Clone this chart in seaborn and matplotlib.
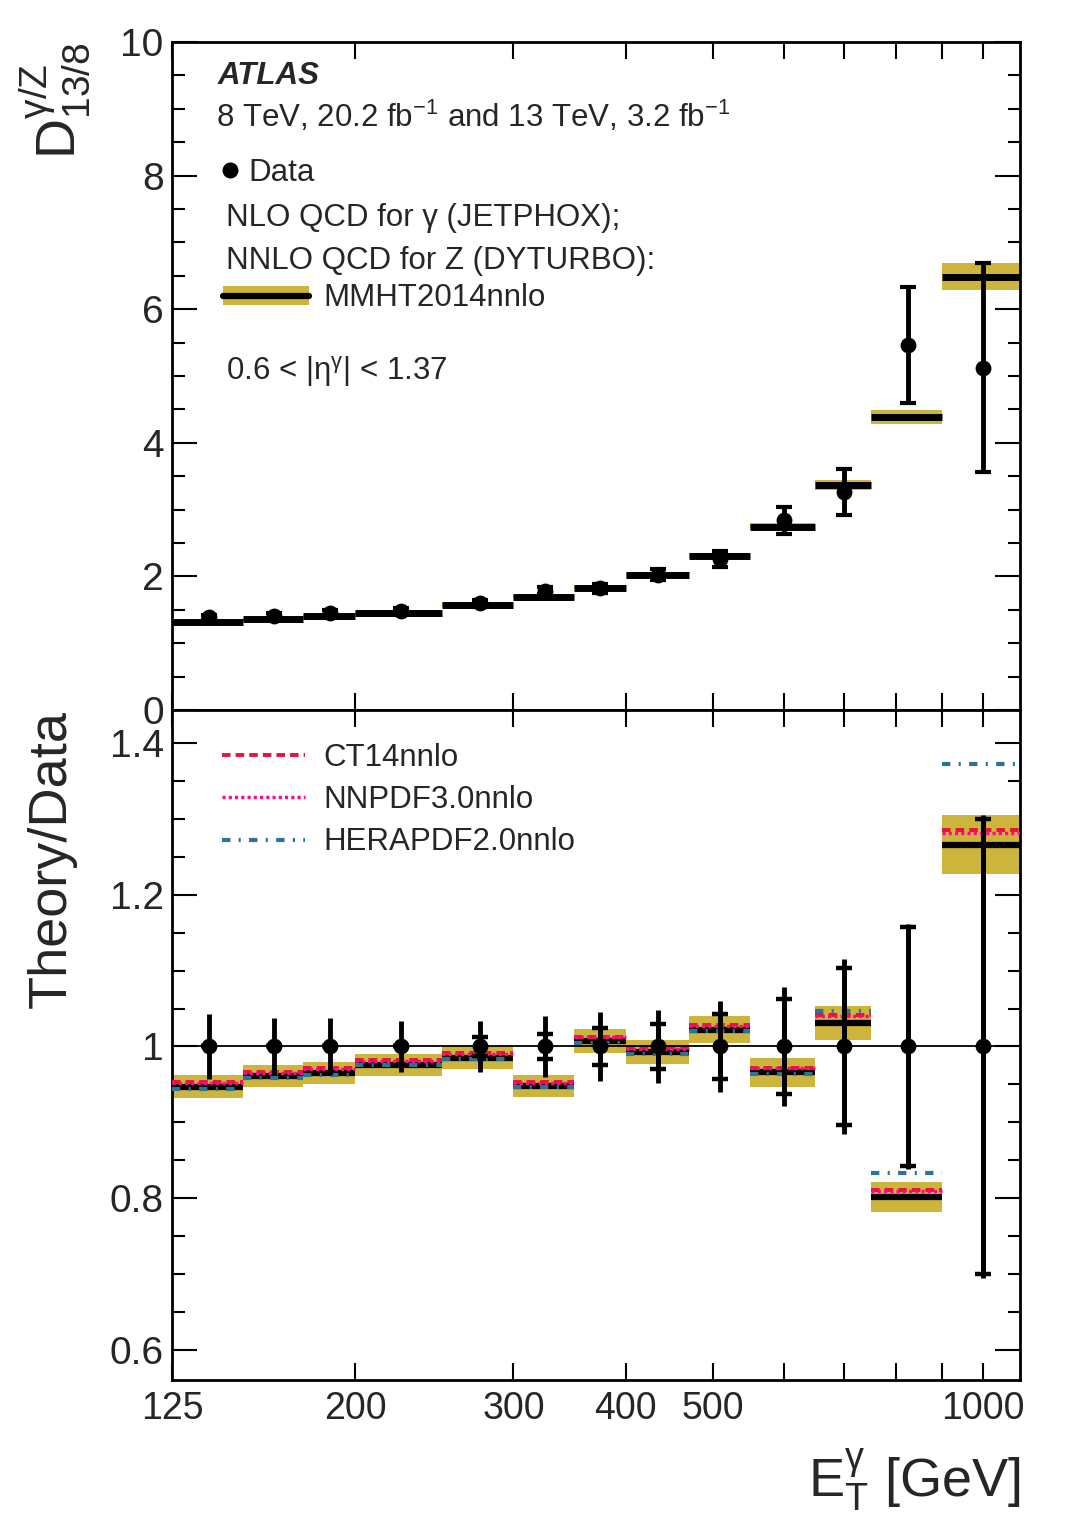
import numpy as np
import matplotlib
matplotlib.use('Agg')
import matplotlib.pyplot as plt
from matplotlib.lines import Line2D
from matplotlib.patches import Patch
from matplotlib.ticker import FixedLocator, FixedFormatter, NullLocator, MultipleLocator
import seaborn as sns

# photon E_T bins [GeV]
et_edges = [125, 150, 175, 200, 250, 300, 350, 400, 470, 550, 650, 750, 900, 1100]
et_centers = [137.5, 162.5, 187.5, 225, 275, 325, 375, 435, 510, 600, 700, 825, 1000]

# measured D^{gamma/Z}_{13/8} and relative uncertainties
data_val = [1.386, 1.411, 1.452, 1.486, 1.596, 1.787, 1.820, 2.027, 2.260, 2.840, 3.263, 5.465, 5.125]
err_upper = [0.028, 0.028, 0.028, 0.028, 0.030, 0.032, 0.037, 0.040, 0.051, 0.070, 0.107, 0.158, 0.305]
err_tot = [0.043, 0.038, 0.037, 0.033, 0.033, 0.040, 0.045, 0.048, 0.060, 0.078, 0.115, 0.162, 0.305]
err_stat = [0.0, 0.0, 0.0, 0.0, 0.012, 0.016, 0.025, 0.030, 0.043, 0.063, 0.104, 0.158, 0.300]

# theory / data
mmht_ratio = [0.947, 0.961, 0.965, 0.976, 0.985, 0.948, 1.007, 0.993, 1.022, 0.966, 1.031, 0.802, 1.266]
mmht_band = [0.015, 0.014, 0.014, 0.0145, 0.015, 0.014, 0.0155, 0.0155, 0.018, 0.019, 0.022, 0.020, 0.039]
ct14_ratio = [0.953, 0.966, 0.971, 0.982, 0.991, 0.953, 1.013, 0.998, 1.028, 0.972, 1.041, 0.811, 1.285]
nnpdf_ratio = [0.952, 0.965, 0.970, 0.981, 0.990, 0.952, 1.012, 0.997, 1.027, 0.971, 1.040, 0.810, 1.282]
hera_ratio = [0.944, 0.959, 0.963, 0.975, 0.984, 0.946, 1.004, 0.990, 1.021, 0.964, 1.047, 0.833, 1.372]

x_ticks = [125, 200, 300, 400, 500, 600, 700, 800, 900, 1000]
x_ticklabels = ['125', '200', '300', '400', '500', '', '', '', '', '1000']

sns.set_theme(style='ticks')
plt.rcParams['font.family'] = ['Liberation Sans', 'DejaVu Sans']
plt.rcParams['mathtext.fontset'] = 'custom'
plt.rcParams['mathtext.rm'] = 'Liberation Sans'
plt.rcParams['mathtext.it'] = 'Liberation Sans:italic'
plt.rcParams['mathtext.bf'] = 'Liberation Sans:bold'
plt.rcParams['mathtext.default'] = 'regular'

gold = '#cdb43c'
c_ct14 = '#e8103c'
c_nnpdf = '#ff0a8c'
c_hera = '#2c7496'
ls_ct14 = (0, (2.2, 1.3))
ls_nnpdf = (0, (0.9, 0.9))
ls_hera = (0, (2.0, 2.0, 0.5, 2.0))

D = np.array(data_val)
R = np.array(mmht_ratio)
H = np.array(mmht_band)
lo = np.array(et_edges[:-1])
hi = np.array(et_edges[1:])
wd = hi - lo

fig = plt.figure(figsize=(10.75, 15.36), dpi=100)
ax1 = fig.add_axes([0.16, 0.5378, 0.789, 0.43486])
ax2 = fig.add_axes([0.16, 0.10156, 0.789, 0.43624])


def style_axis(ax):
    ax.set_xscale('log')
    ax.set_xlim(125, 1100)
    ax.xaxis.set_major_locator(FixedLocator(x_ticks))
    ax.xaxis.set_major_formatter(FixedFormatter(x_ticklabels))
    ax.xaxis.set_minor_locator(NullLocator())
    ax.tick_params(axis='both', which='both', direction='in', top=True, right=True,
                   color='black', width=1.5)
    ax.tick_params(axis='y', which='major', length=18, labelsize=28, pad=6)
    ax.tick_params(axis='y', which='minor', length=9)
    ax.tick_params(axis='x', which='major', length=12, labelsize=27, pad=8)
    for s in ax.spines.values():
        s.set_linewidth(2)
        s.set_color('black')


# ---- upper panel ----
style_axis(ax1)
ax1.bar(lo, D * 2 * H, bottom=D * (R - H), width=wd, align='edge', color=gold, linewidth=0, zorder=1)
ax1.hlines(D * R, lo, hi, colors='black', linewidth=5, zorder=2)
ax1.errorbar(et_centers, D, yerr=D * np.array(err_upper), fmt='none', ecolor='black',
             elinewidth=3.5, capsize=6, capthick=3, zorder=3)
sns.scatterplot(x=et_centers, y=data_val, ax=ax1, color='black', s=130, linewidth=0, zorder=10)
ax1.set_ylim(0, 10)
ax1.yaxis.set_major_locator(MultipleLocator(2))
ax1.yaxis.set_minor_locator(MultipleLocator(0.5))
ax1.tick_params(axis='x', labelbottom=False)
ax1.set_ylabel(r'$D^{\gamma/Z}_{13/8}$', fontsize=40, loc='top')
ax1.yaxis.set_label_coords(-0.094, 1.0)

fs = 22.5
dy = 0.0045
ax1.text(0.054, 0.9535 - dy, 'ATLAS', fontsize=fs, fontweight='bold', style='italic',
         transform=ax1.transAxes, va='center')
ax1.text(0.052, 0.89 - 0.002, '8 TeV, 20.2 fb$^{-1}$ and 13 TeV, 3.2 fb$^{-1}$', fontsize=fs,
         transform=ax1.transAxes, va='center')
ax1.text(0.0637, 0.7406 - dy, 'NLO QCD for γ (JETPHOX);', fontsize=fs,
         transform=ax1.transAxes, va='center')
ax1.text(0.0637, 0.676 - dy, 'NNLO QCD for Z (DYTURBO):', fontsize=fs,
         transform=ax1.transAxes, va='center')
ax1.text(0.0637, 0.511 - dy, r'0.6 < |$\eta^{\gamma}$| < 1.37', fontsize=fs,
         transform=ax1.transAxes, va='center')

leg_data = ax1.legend(handles=[Line2D([], [], marker='o', ls='none', color='black', ms=10.5)],
                      labels=['Data'], loc='center left', bbox_to_anchor=(0.0590, 0.808 - dy),
                      frameon=False, fontsize=fs, handlelength=0.5, handletextpad=0.33,
                      borderpad=0, borderaxespad=0)
ax1.add_artist(leg_data)
ax1.legend(handles=[(Patch(facecolor=gold, edgecolor='none'), Line2D([], [], color='black', lw=4.5))],
           labels=['MMHT2014nnlo'], loc='center left', bbox_to_anchor=(0.0605, 0.6207 - dy),
           frameon=False, fontsize=fs, handlelength=2.75, handleheight=0.55,
           handletextpad=0.45, borderpad=0, borderaxespad=0)

# ---- lower panel ----
style_axis(ax2)
ax2.bar(lo, 2 * H, bottom=R - H, width=wd, align='edge', color=gold, linewidth=0, zorder=1)
ax2.hlines(R, lo, hi, colors='black', linewidth=4.5, zorder=2)
ax2.hlines(ct14_ratio, lo, hi, colors=c_ct14, linewidth=2.8, linestyles=ls_ct14, zorder=3)
ax2.hlines(nnpdf_ratio, lo, hi, colors=c_nnpdf, linewidth=2.5, linestyles=ls_nnpdf, zorder=3)
ax2.hlines(hera_ratio, lo, hi, colors=c_hera, linewidth=3.0, linestyles=ls_hera, zorder=3)
ax2.axhline(1.0, color='black', linewidth=1.3, zorder=4)
ones = np.ones(len(et_centers))
ax2.errorbar(et_centers, ones, yerr=err_tot, fmt='none', ecolor='black',
             elinewidth=3.5, capsize=0, zorder=5)
ax2.errorbar(et_centers, ones, yerr=err_stat, fmt='none', ecolor='black',
             elinewidth=3.5, capsize=6, capthick=3.2, zorder=5)
sns.scatterplot(x=et_centers, y=ones, ax=ax2, color='black', s=130, linewidth=0, zorder=10)
ax2.set_ylim(0.5604, 1.4436)
ax2.yaxis.set_major_locator(FixedLocator([0.6, 0.8, 1.0, 1.2, 1.4]))
ax2.yaxis.set_major_formatter(FixedFormatter(['0.6', '0.8', '1', '1.2', '1.4']))
ax2.yaxis.set_minor_locator(MultipleLocator(0.05))
ax2.set_ylabel('Theory/Data', fontsize=39, loc='top')
ax2.yaxis.set_label_coords(-0.112, 1.0)
ax2.set_xlabel(r'$E_{T}^{\gamma}$ [GeV]', fontsize=39, loc='right')
ax2.xaxis.set_label_coords(1.0, -0.1)

ax2.legend(handles=[Line2D([], [], color=c_ct14, lw=2.8, ls=ls_ct14),
                    Line2D([], [], color=c_nnpdf, lw=2.5, ls=ls_nnpdf),
                    Line2D([], [], color=c_hera, lw=3.0, ls=ls_hera)],
           labels=['CT14nnlo', 'NNPDF3.0nnlo', 'HERAPDF2.0nnlo'],
           loc='upper left', bbox_to_anchor=(0.059, 0.9505), frameon=False, fontsize=fs,
           handlelength=2.65, handletextpad=0.58, labelspacing=0.39,
           borderpad=0, borderaxespad=0)

fig.savefig('out.png', dpi=100)
